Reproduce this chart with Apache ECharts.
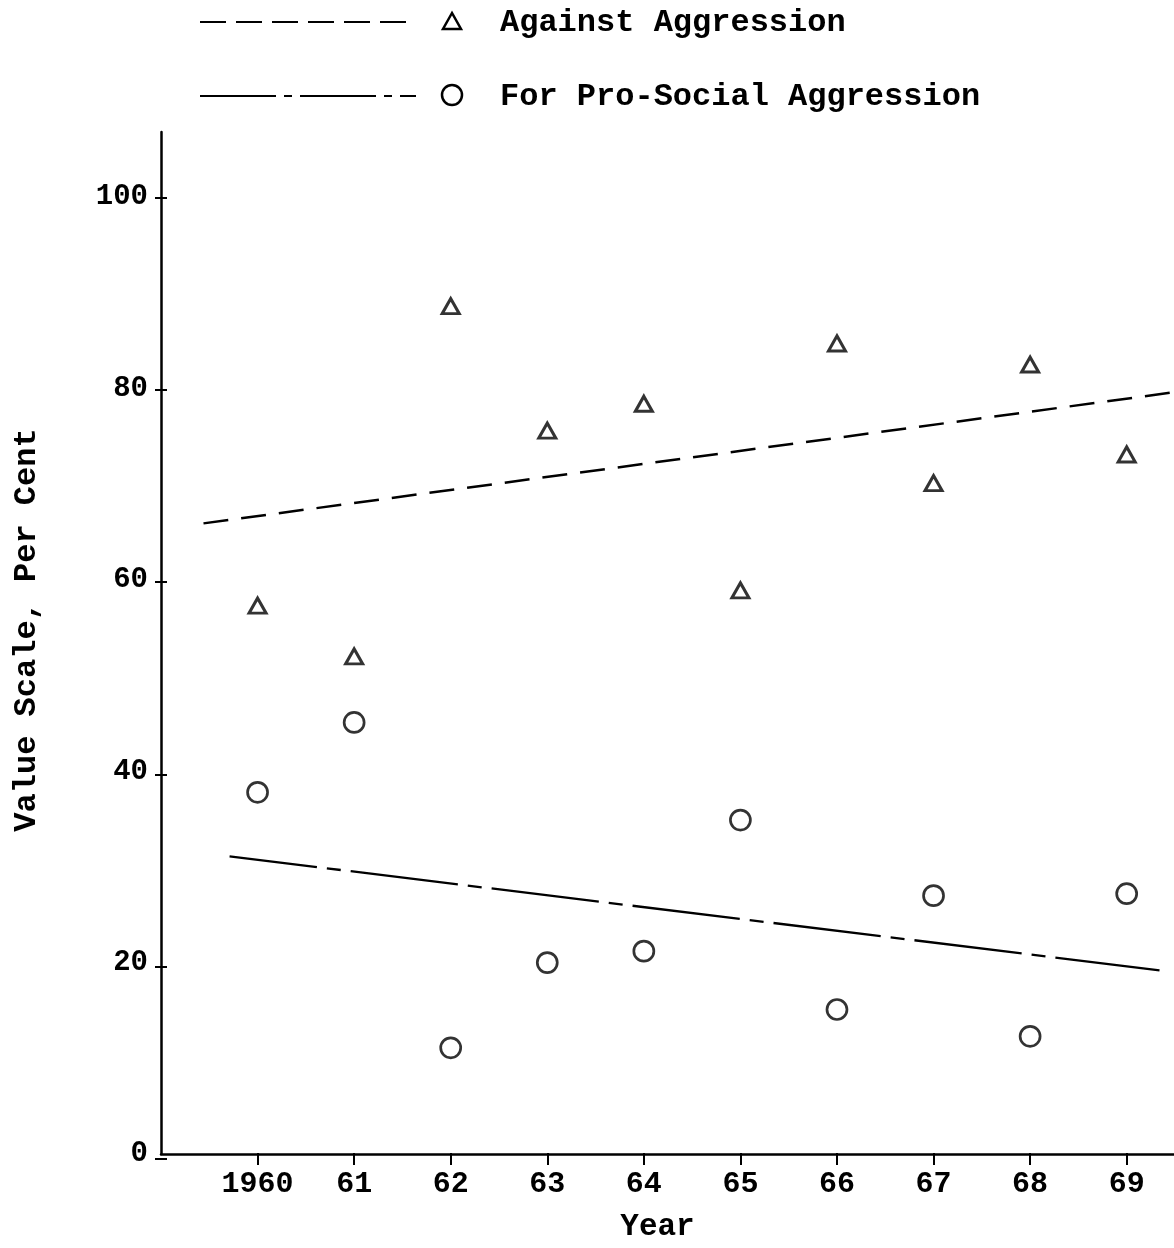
<!DOCTYPE html>
<html>
<head>
<meta charset="utf-8">
<script src="https://cdn.jsdelivr.net/npm/echarts@6/dist/echarts.min.js"></script>
<style>
html,body{margin:0;padding:0;background:#fff;overflow:hidden;}
#chart{width:1174px;height:1248px;}
</style>
</head>
<body>
<div id="chart"></div>
<script>
// ---- data ----
var years = [1960, 1961, 1962, 1963, 1964, 1965, 1966, 1967, 1968, 1969];
var yearLabels = ['1960', '61', '62', '63', '64', '65', '66', '67', '68', '69'];
var againstAggression = [57.3, 52.0, 88.6, 75.6, 78.4, 58.9, 84.7, 70.1, 82.5, 73.1];
var proSocialAggression = [37.8, 45.1, 11.1, 20.0, 21.2, 34.9, 15.1, 27.0, 12.3, 27.2];
// fitted trend lines (end points)
var againstTrendX = [1959.44, 1969.49];
var againstTrendY = [65.9, 79.6];
var proSocialTrendX = [1959.71, 1969.34];
var proSocialTrendY = [31.1, 19.2];
var yTicks = [0, 20, 40, 60, 80, 100];
var legendNames = ['Against Aggression', 'For Pro-Social Aggression'];

var FONT = '"Liberation Mono", "DejaVu Sans Mono", monospace';
var X_MIN = 1959, X_MAX = 1969.49, Y_MIN = 0, Y_MAX = 106.8;
var INK = '#000';

function pairs(xs, ys) { return xs.map(function (x, i) { return [x, ys[i]]; }); }

var chart = echarts.init(document.getElementById('chart'), null, {renderer: 'canvas', width: 1174, height: 1248});

var gridBox = {left: 161, top: 132, width: 1013, height: 1027, containLabel: false};

var option = {
  backgroundColor: '#ffffff',
  animation: false,
  grid: [Object.assign({}, gridBox), Object.assign({}, gridBox)],
  xAxis: [{
    type: 'value', gridIndex: 0, min: X_MIN, max: X_MAX,
    name: 'Year', nameLocation: 'middle', nameGap: 58,
    nameTextStyle: {fontFamily: FONT, fontWeight: 'bold', fontSize: 31, color: INK, padding: [0, 20, 0, 0]},
    axisLine: {onZero: false, lineStyle: {color: INK, width: 2.5}},
    axisTick: {show: false},
    axisLabel: {customValues: years, margin: 15, fontFamily: FONT, fontWeight: 'bold', fontSize: 30, color: INK,
      formatter: function (v) { var i = years.indexOf(Math.round(v)); return i >= 0 ? yearLabels[i] : ''; }},
    splitLine: {show: false}
  }, {
    type: 'value', gridIndex: 1, min: X_MIN, max: X_MAX, offset: -6,
    axisLine: {show: false, onZero: false},
    axisTick: {show: true, inside: false, length: 12, customValues: years, lineStyle: {color: INK, width: 2}},
    axisLabel: {show: false}, splitLine: {show: false}
  }],
  yAxis: [{
    type: 'value', gridIndex: 0, min: Y_MIN, max: Y_MAX,
    name: 'Value Scale, Per Cent', nameLocation: 'middle', nameGap: 118, nameRotate: 90,
    nameTextStyle: {fontFamily: FONT, fontWeight: 'bold', fontSize: 32, color: INK, padding: [0, 0, 0, 26]},
    axisLine: {onZero: false, lineStyle: {color: INK, width: 2.5}},
    axisTick: {show: false},
    axisLabel: {customValues: yTicks, margin: 13, fontFamily: FONT, fontWeight: 'bold', fontSize: 29, color: INK},
    splitLine: {show: false}
  }, {
    type: 'value', gridIndex: 1, min: Y_MIN, max: Y_MAX, offset: -6,
    axisLine: {show: false, onZero: false},
    axisTick: {show: true, inside: false, length: 12, customValues: yTicks, lineStyle: {color: INK, width: 2}},
    axisLabel: {show: false}, splitLine: {show: false}
  }],
  series: [{
    name: legendNames[0] + ' trend', type: 'line', xAxisIndex: 0, yAxisIndex: 0,
    data: pairs(againstTrendX, againstTrendY), symbol: 'none', silent: true,
    lineStyle: {color: INK, width: 2.5, type: [25, 13]}
  }, {
    name: legendNames[1] + ' trend', type: 'line', xAxisIndex: 0, yAxisIndex: 0,
    data: pairs(proSocialTrendX, proSocialTrendY), symbol: 'none', silent: true,
    lineStyle: {color: INK, width: 2.3, type: [108, 10, 14, 10], dashOffset: 20}
  }, {
    name: legendNames[0], type: 'scatter', xAxisIndex: 0, yAxisIndex: 0,
    data: pairs(years, againstAggression), symbol: 'triangle', symbolSize: [17, 15],
    itemStyle: {color: 'rgba(255,255,255,0)', borderColor: INK, borderWidth: 3}
  }, {
    name: legendNames[1], type: 'scatter', xAxisIndex: 0, yAxisIndex: 0,
    data: pairs(years, proSocialAggression), symbol: 'circle', symbolSize: 20,
    itemStyle: {color: 'rgba(255,255,255,0)', borderColor: INK, borderWidth: 2.7}
  }],
  graphic: [
    {type: 'line', shape: {x1: 200, y1: 22, x2: 416, y2: 22}, style: {stroke: INK, lineWidth: 2.2, lineDash: [26, 10]}},
    {type: 'polygon', shape: {points: [[452, 13], [443, 29], [461, 29]]}, style: {fill: 'none', stroke: INK, lineWidth: 2.5}},
    {type: 'text', left: 500, top: 7, style: {text: legendNames[0], font: 'bold 32px ' + FONT, fill: INK}},
    {type: 'line', shape: {x1: 200, y1: 96, x2: 416, y2: 96}, style: {stroke: INK, lineWidth: 2, lineDash: [76, 8, 8, 8]}},
    {type: 'circle', shape: {cx: 452, cy: 95, r: 10}, style: {fill: 'none', stroke: INK, lineWidth: 2.5}},
    {type: 'text', left: 500, top: 81, style: {text: legendNames[1], font: 'bold 32px ' + FONT, fill: INK}}
  ]
};
chart.setOption(option);
</script>
</body>
</html>
